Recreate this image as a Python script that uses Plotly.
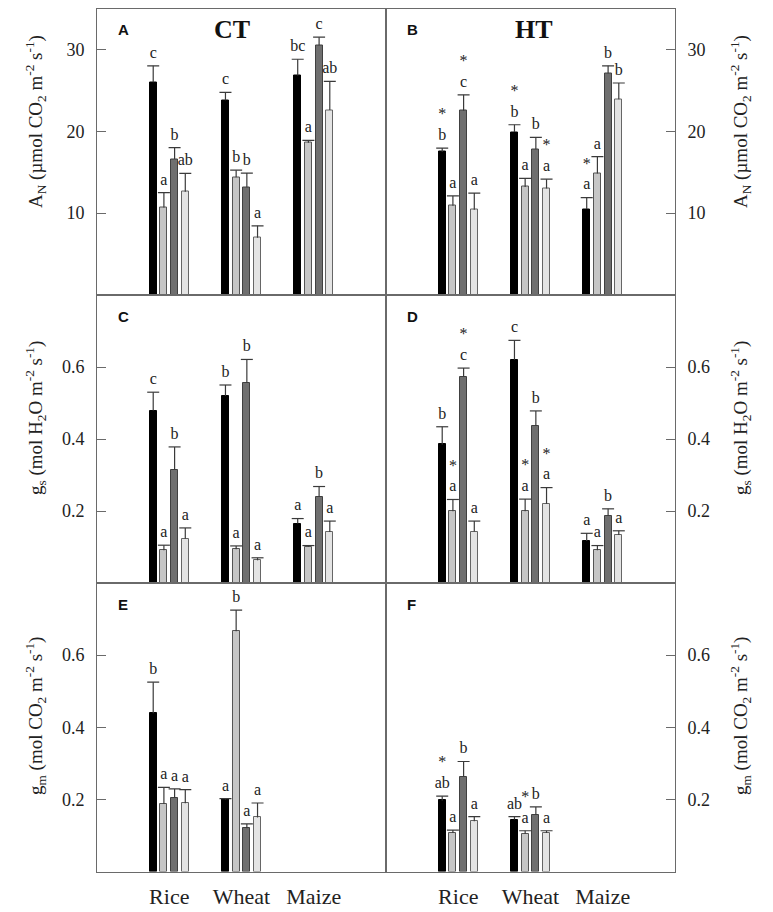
import plotly.graph_objects as go

# ---------------- data ----------------
crops = ["Rice", "Wheat", "Maize"]
bar_colors = ["#000000", "#c6c6c6", "#6f6f6f", "#e4e4e4"]
bar_lines = ["#000000", "#555555", "#404040", "#666666"]

# rows = crops (Rice, Wheat, Maize); cols = 4 series
A_mean = [[26.0, 10.7, 16.6, 12.6], [23.8, 14.4, 13.15, 7.0], [26.8, 18.6, 30.5, 22.6]]
A_err = [[2.0, 1.8, 1.4, 2.25], [0.95, 0.85, 1.75, 1.45], [2.0, 0.3, 1.0, 3.5]]
A_let = [["c", "a", "b", "ab"], ["c", "b", "b", "a"], ["bc", "a", "c", "ab"]]
A_star = [[0, 0, 0, 0], [0, 0, 0, 0], [0, 0, 0, 0]]

B_mean = [[17.5, 10.9, 22.5, 10.4], [19.9, 13.2, 17.8, 13.0], [10.5, 14.85, 27.1, 23.9]]
B_err = [[0.45, 1.2, 1.95, 2.05], [0.9, 1.05, 1.45, 1.15], [1.4, 2.05, 0.9, 2.0]]
B_let = [["b", "a", "c", "a"], ["b", "a", "b", "a"], ["a", "a", "b", "b"]]
B_star = [[1, 0, 1, 0], [1, 0, 0, 1], [1, 0, 0, 0]]

C_mean = [[0.479, 0.091, 0.314, 0.123], [0.52, 0.094, 0.556, 0.063], [0.165, 0.101, 0.239, 0.142]]
C_err = [[0.051, 0.014, 0.064, 0.030], [0.030, 0.009, 0.065, 0.007], [0.014, 0.003, 0.029, 0.030]]
C_let = [["c", "a", "b", "a"], ["b", "a", "b", "a"], ["a", "a", "b", "a"]]
C_star = [[0, 0, 0, 0], [0, 0, 0, 0], [0, 0, 0, 0]]

D_mean = [[0.385, 0.199, 0.573, 0.143], [0.62, 0.199, 0.437, 0.22], [0.117, 0.091, 0.186, 0.133]]
D_err = [[0.049, 0.033, 0.024, 0.029], [0.054, 0.034, 0.041, 0.045], [0.021, 0.013, 0.020, 0.012]]
D_let = [["b", "a", "c", "a"], ["c", "a", "b", "a"], ["a", "a", "b", "a"]]
D_star = [[0, 1, 1, 0], [0, 1, 0, 1], [0, 0, 0, 0]]

E_mean = [[0.439, 0.187, 0.204, 0.189], [0.200, 0.666, 0.12, 0.15], [None, None, None, None]]
E_err = [[0.086, 0.046, 0.025, 0.038], [0.002, 0.059, 0.012, 0.040], [None, None, None, None]]
E_let = [["b", "a", "a", "a"], ["a", "b", "a", "a"], ["", "", "", ""]]
E_star = [[0, 0, 0, 0], [0, 0, 0, 0], [0, 0, 0, 0]]

F_mean = [[0.197, 0.107, 0.263, 0.139], [0.144, 0.105, 0.158, 0.107], [None, None, None, None]]
F_err = [[0.012, 0.008, 0.042, 0.013], [0.008, 0.008, 0.021, 0.006], [None, None, None, None]]
F_let = [["ab", "a", "b", "a"], ["ab", "a", "b", "a"], ["", "", "", ""]]
F_star = [[1, 0, 0, 0], [0, 1, 0, 0], [0, 0, 0, 0]]

panel_names = ["A", "B", "C", "D", "E", "F"]
panel_data = [
    (A_mean, A_err, A_let, A_star),
    (B_mean, B_err, B_let, B_star),
    (C_mean, C_err, C_let, C_star),
    (D_mean, D_err, D_let, D_star),
    (E_mean, E_err, E_let, E_star),
    (F_mean, F_err, F_let, F_star),
]
y_ranges = [[0, 35], [0, 35], [0, 0.8], [0, 0.8], [0, 0.8], [0, 0.8]]
y_ticks = [[10, 20, 30], [10, 20, 30], [0.2, 0.4, 0.6], [0.2, 0.4, 0.6], [0.2, 0.4, 0.6], [0.2, 0.4, 0.6]]
y_titles = [
    "A<sub>N</sub> (µmol CO<sub>2</sub> m<sup>-2</sup> s<sup>-1</sup>)",
    "g<sub>s</sub> (mol H<sub>2</sub>O m<sup>-2</sup> s<sup>-1</sup>)",
    "g<sub>m</sub> (mol CO<sub>2</sub> m<sup>-2</sup> s<sup>-1</sup>)",
]
col_titles = ["CT", "HT"]

# ---------------- layout geometry (screen pixels) ----------------
OFF = 8                      # default page body margin
W, H = 773 - OFF, 912 - OFF  # figure size


def px(x):
    return min(max((x - OFF) / W, 0), 1)


def py(y):
    return min(max(1 - (y - OFF) / H, 0), 1)


x_left, x_mid, x_right = 97, 386, 675
row_edges = [8.5, 295, 583, 871.5]
group_pos = [1, 2, 3]
offsets = [-0.222, -0.074, 0.074, 0.222]
bar_w = 0.097
cap_hw = 0.083

SERIF = "Liberation Serif, Times New Roman, serif"
SANS = "Liberation Sans, Arial, sans-serif"

fig = go.Figure()
layout = dict(
    width=W, height=H, margin=dict(l=0, r=0, t=0, b=0),
    paper_bgcolor="white", plot_bgcolor="white", showlegend=False,
    bargap=0, annotations=[],
)

for p, (mean, err, let, star) in enumerate(panel_data):
    row, col = divmod(p, 2)
    suffix = "" if p == 0 else str(p + 1)
    xref, yref = "x" + suffix, "y" + suffix
    for k in range(4):
        xs = [group_pos[g] + offsets[k] for g in range(3) if mean[g][k] is not None]
        vs = [mean[g][k] for g in range(3) if mean[g][k] is not None]
        es = [err[g][k] for g in range(3) if mean[g][k] is not None]
        fig.add_trace(go.Bar(
            x=xs, y=vs, width=bar_w, xaxis=xref, yaxis=yref,
            marker=dict(color=bar_colors[k], line=dict(color=bar_lines[k], width=1)),
            hoverinfo="skip",
        ))
        ex, ey = [], []
        for x, v, e in zip(xs, vs, es):
            ex += [x, x, None, x - cap_hw, x + cap_hw, None]
            ey += [v, v + e, None, v + e, v + e, None]
        fig.add_trace(go.Scatter(
            x=ex, y=ey, mode="lines", xaxis=xref, yaxis=yref,
            line=dict(color="#3a3a3a", width=1.2), hoverinfo="skip",
        ))
        texts = []
        for g in range(3):
            if mean[g][k] is None:
                continue
            t = let[g][k]
            if star[g][k]:
                t = "*<br>" + t
            texts.append(t)
        fig.add_trace(go.Scatter(
            x=xs, y=[v + e for v, e in zip(vs, es)], mode="markers+text",
            text=texts, textposition="top center",
            textfont=dict(family=SERIF, size=16, color="#222222"),
            marker=dict(size=5, opacity=0), xaxis=xref, yaxis=yref, hoverinfo="skip",
        ))

    x0 = x_left if col == 0 else x_mid
    x1 = x_mid if col == 0 else x_right
    ytop, ybot = row_edges[row], row_edges[row + 1]
    layout["xaxis" + suffix] = dict(
        domain=[px(x0), px(x1)], anchor=yref, range=[0, 4],
        tickvals=group_pos, ticktext=crops, showticklabels=(row == 2),
        ticks="", showgrid=False, zeroline=False,
        showline=True, mirror=True, linecolor="#6a6a6a", linewidth=1,
        tickfont=dict(family=SERIF, size=22, color="#222222"),
        ticklabelstandoff=5,
    )
    layout["yaxis" + suffix] = dict(
        domain=[py(ybot), py(ytop)], anchor=xref, range=y_ranges[p],
        tickvals=y_ticks[p], side="left" if col == 0 else "right",
        ticks="inside", ticklen=9, tickcolor="#6a6a6a",
        showgrid=False, zeroline=False,
        showline=True, mirror=True, linecolor="#6a6a6a", linewidth=1,
        tickfont=dict(family=SERIF, size=18, color="#222222"),
        ticklabelstandoff=8,
    )
    # panel letter
    layout["annotations"].append(dict(
        text="<b>" + panel_names[p] + "</b>", xref="paper", yref="paper",
        x=px(x0 + 19), y=py(ytop + 21), xanchor="left", yanchor="middle",
        showarrow=False, font=dict(family=SANS, size=15, color="#111111"),
    ))

# column titles
for cx, t in zip([232, 534], col_titles):
    layout["annotations"].append(dict(
        text="<b>" + t + "</b>", xref="paper", yref="paper",
        x=px(cx), y=py(29.5), xanchor="center", yanchor="middle",
        showarrow=False, font=dict(family=SERIF, size=26, color="#111111"),
    ))

# axis titles (both sides)
title_centers = [122, 418, 716]
for r, t in enumerate(y_titles):
    for tx in [35, 740]:
        layout["annotations"].append(dict(
            text=t, xref="paper", yref="paper", x=px(tx), y=py(title_centers[r]),
            xanchor="center", yanchor="middle", textangle=-90, showarrow=False,
            font=dict(family=SERIF, size=19, color="#222222"),
        ))

fig.update_layout(**layout)
fig.write_html("out.html")
